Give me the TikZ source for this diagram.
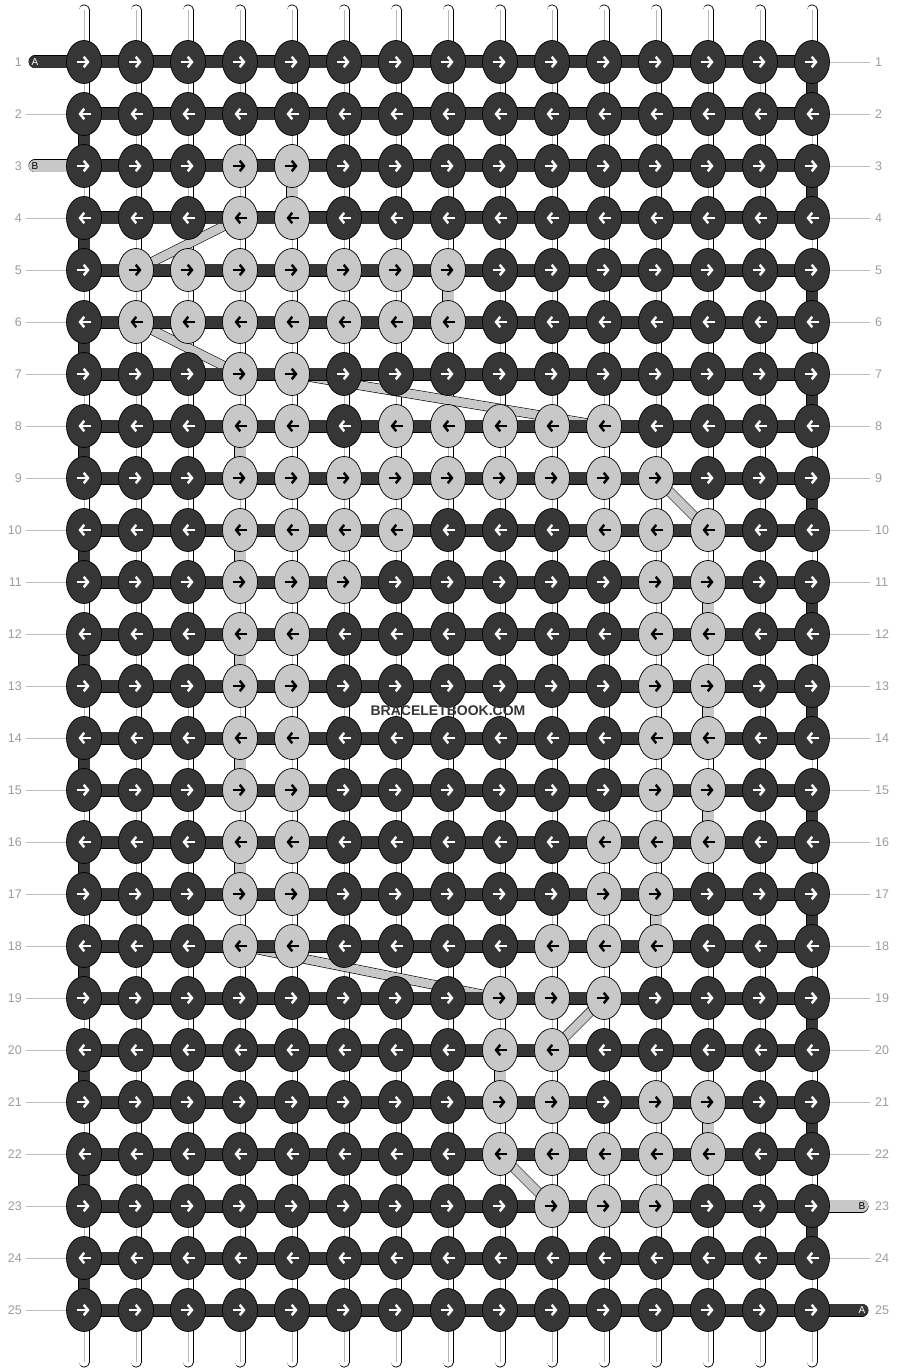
\documentclass[tikz,border=0pt]{standalone}
\usepackage{fontspec}
\setmainfont{Liberation Sans}
\usetikzlibrary{shapes.geometric}
\usetikzlibrary{arrows.meta}

\definecolor{knotdk}{HTML}{363636}
\definecolor{knotlt}{HTML}{C8C8C8}
\definecolor{rowgray}{HTML}{9C9C9C}
\definecolor{rowln}{HTML}{C0C0C0}

\begin{document}
\begin{tikzpicture}[x=1pt, y=-1pt, line join=round,
    knot/.style={ellipse, draw=black, line width=0.7pt, fill=#1, minimum width=35pt, minimum height=43pt, inner sep=0pt},
    warp/.style={draw=black, line width=0.8pt, double=white, double distance=9.4pt, line cap=round},
    warpmid/.style={draw=black!28, line width=0.8pt},
    riser/.style={draw=black, line width=0.6pt, double=#1, double distance=11pt},
    carry/.style={draw=black, line width=0.6pt, double=knotlt, double distance=8.5pt},
    bar/.style={draw=black, line width=0.4pt, double=knotdk, double distance=12.2pt},
    stub/.style={bar, double=#1, line cap=round},
    arw/.style={draw=#1, line width=2.4pt, -{Straight Barb[length=4.2pt, width=10.5pt]}},
    endtag/.style={font=\fontsize{10}{10}\selectfont, inner sep=0pt},
    rownum/.style={font=\fontsize{12.5}{13}\selectfont, text=rowgray, inner sep=1pt},
    rowline/.style={draw=rowln, line width=0.8pt}]
  \useasboundingbox (0,0) rectangle (896,1372);

  % knot positions
  \foreach \r in {1,...,25}
    \foreach \c in {1,...,15}
      \coordinate (p-\r-\c) at ({32+52*\c}, {10+52*\r});

  % vertical strings
  \foreach \c in {1,...,15} {
    \coordinate (top-\c) at ({32+52*\c}, 10);
    \coordinate (bot-\c) at ({32+52*\c}, 1362);
    \draw[warp] (top-\c) -- (bot-\c);
    \draw[warpmid] (top-\c) -- (bot-\c);
  }

  % string A turning at the edges
  \foreach \r in {1,3,...,23} {
    \pgfmathtruncatemacro\rn{\r+1}
    \draw[riser=knotdk] (p-\r-15) -- (p-\rn-15);
  }
  \foreach \r in {2,4,...,24} {
    \pgfmathtruncatemacro\rn{\r+1}
    \draw[riser=knotdk] (p-\r-1) -- (p-\rn-1);
  }

  % string B going straight down
  \foreach \r/\c in {3/5, 5/8, 8/4, 10/4, 11/13, 12/4, 13/13, 14/4, 15/13, 16/4, 17/12, 20/9, 21/13} {
    \pgfmathtruncatemacro\rn{\r+1}
    \draw[riser=knotlt] (p-\r-\c) -- (p-\rn-\c);
  }

  % string B carried to the next row
  \foreach \ra/\ca/\rb/\cb in {4/4/5/2, 6/2/7/4, 7/5/8/11, 9/12/10/13, 18/4/19/9, 19/11/20/10, 22/9/23/10}
    \draw[carry] (p-\ra-\ca) -- (p-\rb-\cb);

  % rows
  \foreach \r in {1,...,25}
    \draw[bar] (p-\r-1) -- (p-\r-15);

  % loose ends
  \coordinate (endA1) at (35, 62);
  \coordinate (endB1) at (35, 166);
  \coordinate (endB2) at (862, 1206);
  \coordinate (endA2) at (862, 1310);
  \draw[stub=knotdk] (p-1-1) -- (endA1);
  \draw[stub=knotlt] (p-3-1) -- (endB1);
  \draw[stub=knotlt] (p-23-15) -- (endB2);
  \draw[stub=knotdk] (p-25-15) -- (endA2);
  \node[endtag, text=white] (tagA1) at (endA1) {A};
  \node[endtag, text=black] (tagB1) at (endB1) {B};
  \node[endtag, text=black] (tagB2) at (endB2) {B};
  \node[endtag, text=white] (tagA2) at (endA2) {A};

  % light knots
  \foreach \r/\cs in {3/{4,5}, 4/{4,5}, 5/{2,...,8}, 6/{2,...,8}, 7/{4,5},
      8/{4,5,7,8,9,10,11}, 9/{4,...,12}, 10/{4,5,6,7,11,12,13}, 11/{4,5,6,12,13},
      12/{4,5,12,13}, 13/{4,5,12,13}, 14/{4,5,12,13}, 15/{4,5,12,13},
      16/{4,5,11,12,13}, 17/{4,5,11,12}, 18/{4,5,10,11,12}, 19/{9,10,11},
      20/{9,10}, 21/{9,10,12,13}, 22/{9,...,13}, 23/{10,11,12}}
    \foreach \c in \cs
      \expandafter\gdef\csname lt-\r-\c\endcsname{};

  % knots
  \foreach \r in {1,...,25}
    \foreach \c in {1,...,15} {
      \ifcsname lt-\r-\c\endcsname
        \def\kfill{knotlt}\def\kink{black}%
      \else
        \def\kfill{knotdk}\def\kink{white}%
      \fi
      \node[knot=\kfill] (k-\r-\c) at (p-\r-\c) {};
      \ifodd\r\relax
        \draw[arw=\kink] ([xshift=-7pt]k-\r-\c.center) -- ([xshift=5.5pt]k-\r-\c.center);
      \else
        \draw[arw=\kink] ([xshift=7pt]k-\r-\c.center) -- ([xshift=-5.5pt]k-\r-\c.center);
      \fi
    }

  % row numbers
  \foreach \r in {1,...,25} {
    \pgfmathtruncatemacro\ry{10+52*\r}
    \node[rownum, anchor=east] (nl-\r) at (23, \ry) {\r};
    \node[rownum, anchor=west] (nr-\r) at (874, \ry) {\r};
    \ifnum\r=1 \else\ifnum\r=3 \else
      \draw[rowline] ([xshift=3pt]nl-\r.east) -- (k-\r-1.west);
    \fi\fi
    \ifnum\r=23 \else\ifnum\r=25 \else
      \draw[rowline] (k-\r-15.east) -- ([xshift=-4pt]nr-\r.west);
    \fi\fi
  }

  \node[font=\bfseries\fontsize{14}{14}\selectfont, text=knotdk, inner sep=0pt] (mark) at (448, 711) {BRACELETBOOK.COM};
\end{tikzpicture}
\end{document}
